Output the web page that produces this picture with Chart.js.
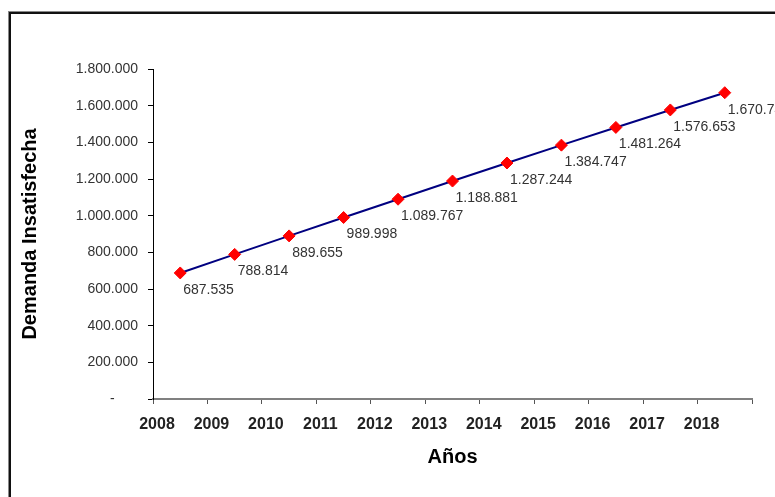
<!DOCTYPE html>
<html lang="es">
<head>
  <meta charset="UTF-8" />
  <title>Demanda Insatisfecha</title>
  <script src="https://cdn.jsdelivr.net/npm/chart.js"></script>
  <style>
    html, body { margin: 0; padding: 0; background: #fff; overflow: hidden; }
    .wrap { position: relative; width: 775px; height: 497px; }
    .frame {
      position: absolute; left: 8px; top: 11px; right: -20px; bottom: -20px;
      border-left: 1px solid #888; border-top: 1px solid #888;
    }
    .frame-in {
      position: absolute; left: 0; top: 0; right: 0; bottom: 0;
      border-left: 2px solid #111; border-top: 2px solid #111;
    }
    canvas { position: absolute; left: 0; top: 0; }
  </style>
</head>
<body>
  <div class="wrap">
    <div class="frame"><div class="frame-in"></div></div>
    <canvas id="chart" width="775" height="497"></canvas>
  </div>

  <script>
    const years = ['2008', '2009', '2010', '2011', '2012', '2013', '2014', '2015', '2016', '2017', '2018'];
    const demanda = [687535, 788814, 889655, 989998, 1089767, 1188881, 1287244, 1384747, 1481264, 1576653, 1670749];
    const yMax = 1800000;
    const yStep = 200000;

    const fontFam = "'Liberation Sans', Arial, sans-serif";

    function fmt(n) {
      return String(n).replace(/\B(?=(\d{3})+(?!\d))/g, '.');
    }

    // points sit between the year ticks, like the Excel original
    const points = demanda.map((v, i) => ({ x: i + 0.5, y: v }));

    const valueLabels = {
      id: 'valueLabels',
      afterDatasetsDraw(chart) {
        const ctx = chart.ctx;
        const meta = chart.getDatasetMeta(0);
        ctx.save();
        ctx.font = '14px ' + fontFam;
        ctx.fillStyle = '#333';
        ctx.textAlign = 'left';
        ctx.textBaseline = 'middle';
        meta.data.forEach((pt, i) => {
          ctx.fillText(fmt(demanda[i]), pt.x + 3, pt.y + 17);
        });
        ctx.restore();
      }
    };

    new Chart(document.getElementById('chart'), {
      type: 'line',
      data: {
        datasets: [{
          data: points,
          borderColor: '#000080',
          borderWidth: 2,
          pointStyle: 'rectRot',
          pointRadius: 6,
          pointBackgroundColor: '#ff0000',
          pointBorderColor: '#ff0000',
          pointBorderWidth: 1,
          tension: 0
        }]
      },
      options: {
        responsive: false,
        animation: false,
        devicePixelRatio: 1,
        layout: { padding: { left: 0, right: 23, top: 69, bottom: 0 } },
        plugins: { legend: { display: false }, tooltip: { enabled: false } },
        scales: {
          x: {
            type: 'linear',
            min: 0,
            max: years.length,
            afterFit: (s) => { s.height = 98; },
            border: { display: true, color: '#808080', width: 2 },
            grid: { drawOnChartArea: false, drawTicks: true, tickLength: 5, color: '#555' },
            ticks: {
              stepSize: 1,
              autoSkip: false,
              maxRotation: 0,
              padding: 11,
              labelOffset: 4,
              color: '#222',
              font: { family: fontFam, size: 16, weight: 'bold' },
              callback: (v) => years[v] !== undefined ? years[v] : ''
            },
            title: {
              display: true,
              text: 'Años',
              color: '#000',
              padding: 28,
              font: { family: fontFam, size: 20, weight: 'bold' }
            }
          },
          y: {
            min: 0,
            max: yMax,
            afterFit: (s) => { s.width = 153; },
            border: { display: true, color: '#000', width: 1 },
            grid: { drawOnChartArea: false, drawTicks: true, tickLength: 5, color: '#000' },
            ticks: {
              stepSize: yStep,
              padding: 10,
              color: '#333',
              font: { family: fontFam, size: 14 },
              callback: (v) => v === 0 ? '-      ' : fmt(v)
            },
            title: {
              display: true,
              text: 'Demanda Insatisfecha',
              color: '#000',
              padding: 18,
              font: { family: fontFam, size: 20, weight: 'bold' }
            }
          }
        }
      },
      plugins: [valueLabels]
    });
  </script>
</body>
</html>
